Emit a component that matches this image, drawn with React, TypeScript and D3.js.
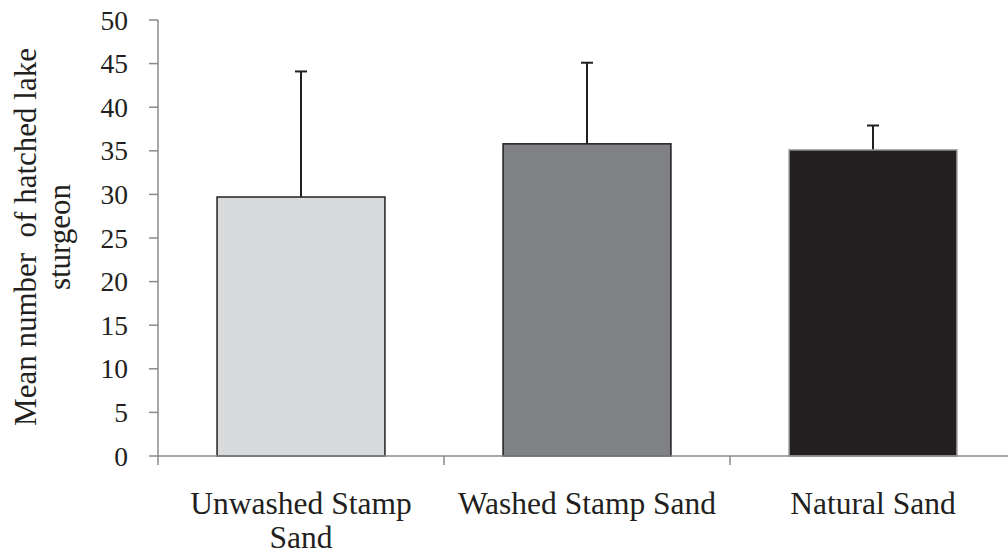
import React from 'react'
import * as d3 from 'd3'

const categories = ['Unwashed Stamp Sand', 'Washed Stamp Sand', 'Natural Sand']
const labelLines = [['Unwashed Stamp', 'Sand'], ['Washed Stamp Sand'], ['Natural Sand']]
const means = [29.7, 35.8, 35.1]
const errors = [14.4, 9.3, 2.8]
const fills = ['#d9dadb', '#808184', '#231f20']
const strokes = ['#231f20', '#231f20', '#9a9a9a']
const yTicks = [0, 5, 10, 15, 20, 25, 30, 35, 40, 45, 50]
const yTitle = ['Mean number  of hatched lake', 'sturgeon']

const width = 1008
const height = 559
const left = 158
const top = 20
const bottom = 456
const font = "'Liberation Serif', 'Times New Roman', Times, 'DejaVu Serif', serif"
const axisColor = '#8a8a8a'
const textStyle = { fontFamily: font, fill: '#231f20' }

function App() {
  const x = d3
    .scaleBand()
    .domain(categories)
    .range([left, left + 3 * 286])
    .paddingInner(0.413)
    .paddingOuter(0.2065)

  const y = d3.scaleLinear().domain([0, 50]).range([bottom, top])
  const step = x.step()
  const xTicks = d3.range(categories.length + 1).map((i) => left + i * step)

  return (
    <svg
      width={width}
      height={height}
      style={{ position: 'absolute', left: 0, top: 0, background: 'white' }}
    >
      {/* y axis */}
      <line x1={left} x2={left} y1={top} y2={bottom} stroke={axisColor} strokeWidth={1.5} />
      {yTicks.map((t) => (
        <g key={t}>
          <line x1={left - 9} x2={left} y1={y(t)} y2={y(t)} stroke={axisColor} strokeWidth={1.5} />
          <text x={128} y={y(t)} dy="0.35em" textAnchor="end" style={{ ...textStyle, fontSize: 27.5 }}>
            {t}
          </text>
        </g>
      ))}

      {/* error bars (behind bars) */}
      {categories.map((c, i) => {
        const cx = x(c)! + x.bandwidth() / 2
        return (
          <g key={'e' + c}>
            <line x1={cx} x2={cx} y1={y(means[i] - errors[i])} y2={y(means[i] + errors[i])} stroke="#231f20" strokeWidth={2} />
            <line x1={cx - 6} x2={cx + 6} y1={y(means[i] + errors[i])} y2={y(means[i] + errors[i])} stroke="#231f20" strokeWidth={2} />
          </g>
        )
      })}

      {/* bars */}
      {categories.map((c, i) => (
        <rect
          key={c}
          x={x(c)}
          y={y(means[i])}
          width={x.bandwidth()}
          height={y(0) - y(means[i])}
          fill={fills[i]}
          stroke={strokes[i]}
          strokeWidth={1.5}
        />
      ))}

      {/* x axis */}
      <line x1={left} x2={width} y1={bottom} y2={bottom} stroke={axisColor} strokeWidth={1.5} />
      {xTicks.map((t) => (
        <line key={t} x1={t} x2={t} y1={bottom} y2={bottom + 9} stroke={axisColor} strokeWidth={1.5} />
      ))}
      {categories.map((c, i) => (
        <text
          key={'l' + c}
          x={x(c)! + x.bandwidth() / 2}
          y={514}
          textAnchor="middle"
          style={{ ...textStyle, fontSize: 31.5 }}
        >
          {labelLines[i].map((ln, j) => (
            <tspan key={j} x={x(c)! + x.bandwidth() / 2} dy={j === 0 ? 0 : 34}>
              {ln}
            </tspan>
          ))}
        </text>
      ))}

      {/* y title */}
      {yTitle.map((ln, j) => (
        <text
          key={ln}
          transform={`translate(${j === 0 ? 36 : 70}, 237) rotate(-90)`}
          textAnchor="middle"
          style={{ ...textStyle, fontSize: 31, whiteSpace: 'pre' }}
        >
          {ln}
        </text>
      ))}
    </svg>
  )
}

export default App
